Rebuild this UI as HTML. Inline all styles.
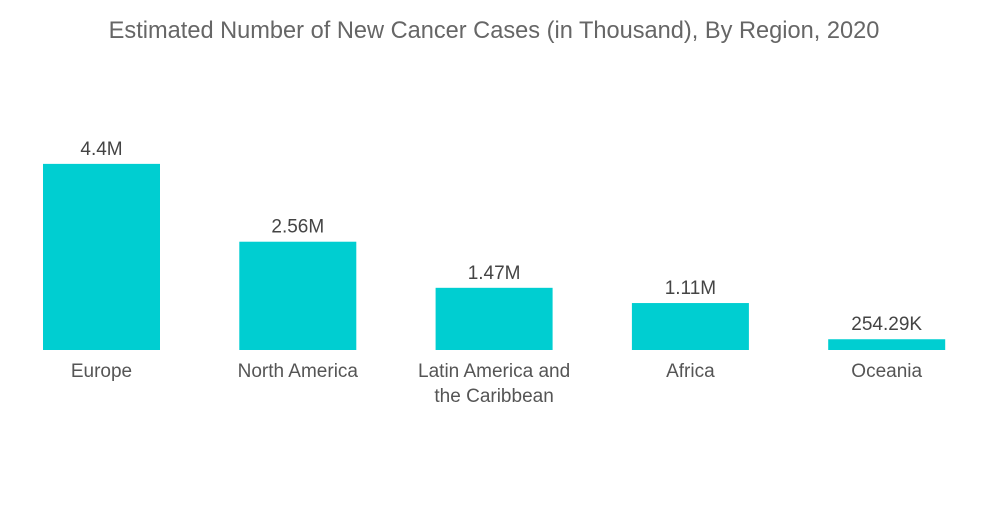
<!DOCTYPE html>
<html><head><meta charset="utf-8"><style>
body{margin:0;background:#fff;width:1000px;height:504px;overflow:hidden;font-family:"Liberation Sans",sans-serif}
svg text{font-family:"Liberation Sans",sans-serif}
</style></head><body>
<svg id="chart" width="1000" height="504">
<text x="494" y="38" text-anchor="middle" font-size="23.6" fill="#666">Estimated Number of New Cancer Cases (in Thousand), By Region, 2020</text>
<g id="bars"></g>
</svg>
<script>
const categories=[["Europe"],["North America"],["Latin America and","the Caribbean"],["Africa"],["Oceania"]];
const values=[4.4,2.56,1.47,1.11,0.25429];
const valueLabels=["4.4M","2.56M","1.47M","1.11M","254.29K"];
const ns="http://www.w3.org/2000/svg";
const baseY=350, pxPerUnit=42.3, x0=43, step=196.3, bw=117;
const y=v=>baseY-v*pxPerUnit;
const g=document.getElementById('bars');
values.forEach((v,i)=>{
  const x=x0+i*step;
  const r=document.createElementNS(ns,'rect');
  r.setAttribute('x',x);r.setAttribute('y',y(v));r.setAttribute('width',bw);r.setAttribute('height',baseY-y(v));r.setAttribute('fill','#00CED1');
  
  
  g.appendChild(r);
  const t=document.createElementNS(ns,'text');
  t.setAttribute('x',x+bw/2);t.setAttribute('y',y(v)-9);t.setAttribute('text-anchor','middle');t.setAttribute('font-size','19');t.setAttribute('fill','#444');
  t.textContent=valueLabels[i];
  
  
  g.appendChild(t);
  categories[i].forEach((line,j)=>{
    const c=document.createElementNS(ns,'text');
    c.setAttribute('x',x+bw/2);c.setAttribute('y',377+j*25);c.setAttribute('text-anchor','middle');c.setAttribute('font-size','19');c.setAttribute('fill','#555');
    c.textContent=line;
    
    
    g.appendChild(c);
  });
});
</script>
</body></html>
